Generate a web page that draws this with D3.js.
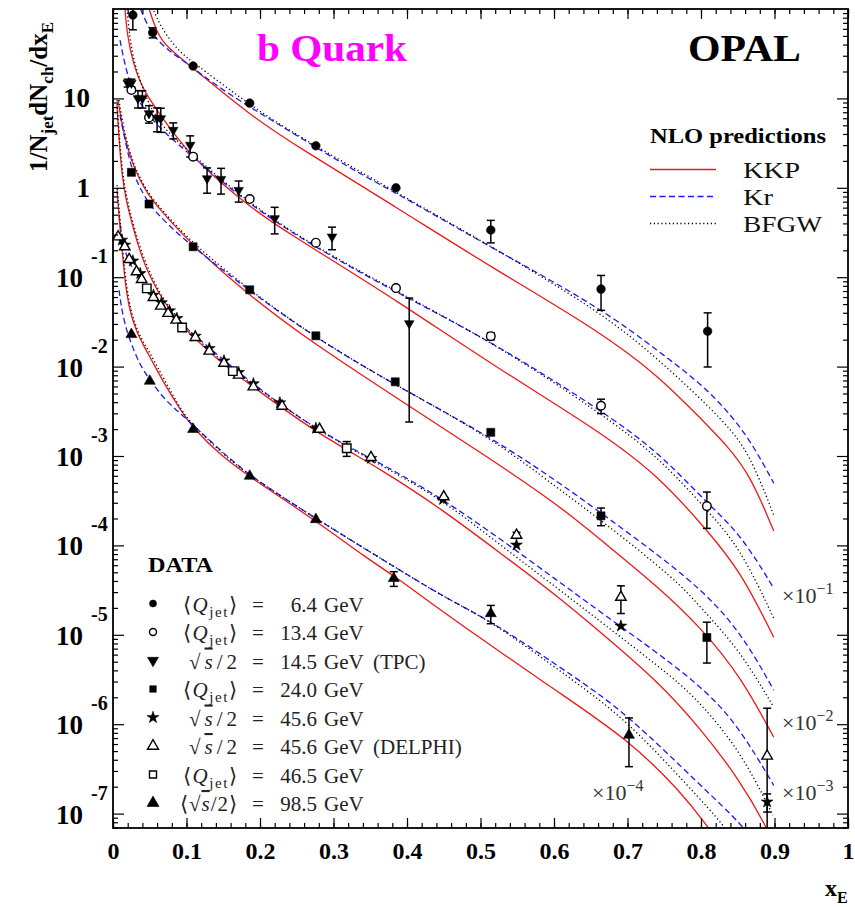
<!DOCTYPE html>
<html><head><meta charset="utf-8">
<script src="https://cdn.jsdelivr.net/npm/d3@7/dist/d3.min.js"></script>
<style>
html,body{margin:0;padding:0;background:#fff;}
svg text{font-family:"Liberation Serif","Times New Roman",serif;}
</style></head>
<body>
<svg id="chart" width="855" height="907"></svg>
<script>
// ---------------- axis ticks ----------------
const xTickValues = [0,0.1,0.2,0.3,0.4,0.5,0.6,0.7,0.8,0.9,1];
const xTickLabels = ["0","0.1","0.2","0.3","0.4","0.5","0.6","0.7","0.8","0.9","1"];
const yDecadeExps = [1,0,-1,-2,-3,-4,-5,-6,-7];
// plotted value = value * groupScale[group]
const groupScale = [1,1e-1,1e-2,1e-3,1e-4];
const groupScaleExp = ["", "−1", "−2", "−3", "−4"];

// ---------------- data (unscaled 1/Njet dNch/dxE) ----------------
// <Qjet> = 6.4 GeV (group 0)
const q64_x = [0.027,0.054,0.109,0.186,0.276,0.385,0.514,0.664,0.809];
const q64_y = [85.5,54.5,23.0,8.85,2.95,1.0,0.337,0.0736,0.0249];
const q64_e = [27,7,0,0,0,0,0.095,0.031,0.015];
// <Qjet> = 13.4 GeV (group 1)
const q134_x = [0.025,0.049,0.109,0.186,0.276,0.385,0.514,0.664,0.808];
const q134_y = [124,61.2,22.3,7.48,2.43,0.755,0.219,0.0365,0.00275];
const q134_e = [0,0,0,0,0,0,0.02,0.0067,0.0012];
// sqrt(s)/2 = 14.5 GeV TPC (group 1)
const tpc_x = [0.020,0.025,0.034,0.040,0.049,0.060,0.065,0.082,0.105,0.128,0.147,0.171,0.220,0.298,0.403];
const tpc_y = [149,149,100,100,67.9,60.3,59.7,44.2,30.1,12.7,12.5,9.42,4.55,2.83,0.304];
const tpc_e = [15,15,22,22,15,18,18,9,8,4,4,2.5,1.5,0.8,0.28];
// <Qjet> = 24.0 GeV (group 2)
const q240_x = [0.025,0.049,0.109,0.186,0.276,0.384,0.514,0.664,0.808];
const q240_y = [149,65.8,21.9,7.23,2.21,0.676,0.184,0.0214,0.000933];
const q240_e = [0,0,0,0,0,0,0,0.0048,0.00045];
// sqrt(s)/2 = 45.6 GeV (group 3)
const z456_x = [0.012,0.016,0.027,0.037,0.055,0.066,0.077,0.087,0.112,0.131,0.151,0.171,0.191,0.227,0.276,0.351,0.449,0.549,0.691,0.890];
const z456_y = [260,229,152,110,63.0,51.8,42.1,34.6,21.9,16.0,11.6,8.61,6.43,3.94,2.04,0.942,0.327,0.101,0.01253,0.000135];
const z456_e = [0,0,0,0,0,0,0,0,0,0,0,0,0,0,0,0,0,0,0,0.000031];
// sqrt(s)/2 = 45.6 GeV DELPHI (group 3)
const del_x = [0.007,0.016,0.022,0.032,0.039,0.055,0.065,0.075,0.086,0.112,0.131,0.151,0.171,0.191,0.230,0.281,0.351,0.450,0.549,0.691,0.890];
const del_y = [283,219,158,115,94.4,59.4,47.5,39.4,33.1,21.2,14.9,10.9,8.04,5.94,3.61,1.99,0.964,0.350,0.130,0.0263,0.00044];
const del_e = [0,0,0,0,0,0,0,0,0,0,0,0,0,0,0,0,0,0,0.01,0.009,0.00107];
// <Qjet> = 46.5 GeV (group 3)
const q465_x = [0.046,0.094,0.163,0.318];
const q465_y = [75.0,27.4,8.91,1.22];
const q465_e = [0,0,0,0.23];
// <sqrt(s)/2> = 98.5 GeV (group 4)
const l985_x = [0.025,0.050,0.109,0.186,0.276,0.382,0.514,0.702];
const l985_y = [229,68.9,19.9,5.96,1.95,0.428,0.173,0.00755];
const l985_e = [0,0,0,0,0,0.08,0.04,0.0042];

// ---------------- NLO predictions (unscaled) ----------------
const kkpA_x = [0.046,0.049,0.060,0.073,0.109,0.186,0.254,0.385,0.514,0.664,0.744,0.799,0.835,0.867,0.899];
const kkpA_y = [126,100,53.7,37.5,21.8,6.52,2.78,0.609,0.130,0.0243,0.00764,0.00265,0.00132,0.000612,0.000145];
const krA_x = [0.034,0.037,0.050,0.064,0.082,0.101,0.139,0.186,0.254,0.322,0.385,0.445,0.514,0.664,0.744,0.799,0.835,0.867,0.899];
const krA_y = [125,100,58.1,41.6,31.3,24.8,14.1,8.0,3.69,1.66,0.873,0.458,0.217,0.0452,0.0145,0.00653,0.00327,0.00151,0.000498];
const bfA_x = [0.052,0.054,0.064,0.082,0.101,0.118,0.186,0.254,0.385,0.514,0.664,0.744,0.835,0.867,0.899];
const bfA_y = [126,100,66.1,39.4,28.2,22.4,8.41,3.69,0.895,0.223,0.0407,0.0118,0.00233,0.00102,0.000218];

const kkpB_x = [0.0163,0.019,0.027,0.041,0.060,0.082,0.109,0.186,0.254,0.276,0.385,0.514,0.664,0.744,0.808,0.853,0.899];
const kkpB_y = [1000,537,248,124,74.1,40.9,21.5,5.94,2.61,2.01,0.555,0.107,0.0185,0.00581,0.00148,0.000528,0.000094];
const krB_x = [0.0095,0.0177,0.0259,0.0367,0.0503,0.0707,0.109,0.186,0.276,0.385,0.514,0.664,0.744,0.808,0.853,0.899];
const krB_y = [449,207,130,88.5,61.8,40.9,22.1,6.41,2.12,0.681,0.193,0.0327,0.01076,0.00297,0.001374,0.000332];
const bfB_x = [0.019,0.0231,0.0299,0.041,0.0503,0.0707,0.109,0.186,0.276,0.385,0.514,0.664,0.744,0.808,0.853,0.899];
const bfB_y = [998,449,230,128,80,44,23.2,6.58,2.17,0.700,0.193,0.0302,0.00948,0.00248,0.000957,0.000153];

const kkpC_x = [0.0068,0.0122,0.0204,0.0299,0.0435,0.0639,0.109,0.186,0.276,0.384,0.514,0.608,0.664,0.744,0.799,0.853,0.899];
const kkpC_y = [957,504,264,158,94.2,56.5,22.3,6.15,1.74,0.456,0.0925,0.0275,0.01146,0.00332,0.00122,0.000354,0.0000714];
const krC_x = [0.0095,0.0177,0.0259,0.0367,0.049,0.0707,0.109,0.186,0.276,0.384,0.514,0.608,0.664,0.789,0.853,0.899];
const krC_y = [652,301,158,99.3,65.8,41.3,21.7,7.0,2.08,0.621,0.163,0.0498,0.0230,0.00408,0.00113,0.000240];
const bfC_x = [0.0082,0.0136,0.0218,0.0313,0.0449,0.0639,0.109,0.186,0.276,0.384,0.514,0.608,0.664,0.767,0.799,0.853,0.899];
const bfC_y = [957,504,264,158,94.2,59.4,23.4,7.18,2.08,0.621,0.163,0.0416,0.0192,0.00408,0.00204,0.000673,0.000155];

const kkpD_x = [0.0054,0.0082,0.0122,0.0177,0.0254,0.034,0.0435,0.0544,0.0639,0.0844,0.109,0.146,0.191,0.277,0.367,0.449,0.527,0.608,0.663,0.740,0.799,0.853,0.890,0.899];
const kkpD_y = [8414,3420,1387,729,413,229,136,88.1,63.1,34.8,21.4,11.2,5.90,1.80,0.695,0.248,0.082,0.0258,0.01074,0.00310,0.000904,0.000236,0.0000685,0.000045];
const krD_x = [0.0082,0.0122,0.0177,0.0259,0.0367,0.0544,0.0707,0.0912,0.112,0.191,0.277,0.351,0.449,0.567,0.663,0.799,0.853,0.899];
const krD_y = [495,274,177,126,92.9,63.1,45.1,31.5,21.9,6.21,1.95,0.948,0.338,0.0684,0.0179,0.00288,0.000904,0.000207];
const bfD_x = [0.0054,0.0082,0.0122,0.0177,0.0254,0.034,0.0435,0.0544,0.0639,0.0844,0.109,0.146,0.191,0.277,0.367,0.449,0.527,0.608,0.663,0.767,0.799,0.853,0.898];
const bfD_y = [9572,4093,1660,828,458,253,151,95.3,66.4,36.7,22.5,11.8,6.21,1.95,0.771,0.321,0.101,0.0316,0.0141,0.0031,0.00172,0.000513,0.0000962];

const kkpE_x = [0.0054,0.0082,0.0109,0.0143,0.0186,0.0245,0.0327,0.0435,0.0503,0.0707,0.0912,0.109,0.146,0.186,0.277,0.345,0.391,0.423,0.513,0.608,0.702,0.771,0.811,0.826];
const kkpE_y = [9419,4955,2600,1365,631,377,237,161,128,62.1,33.4,20.5,10.2,5.81,1.87,0.721,0.408,0.257,0.0766,0.0222,0.00661,0.00182,0.000686,0.000447];
const krE_x = [0.0082,0.0109,0.0163,0.0245,0.0367,0.0503,0.0707,0.0912,0.109,0.146,0.186,0.277,0.368,0.457,0.513,0.635,0.701,0.799,0.860,0.873];
const krE_y = [718,486,291,182,104,70.6,42.3,30.2,22.2,11.6,5.97,1.97,0.684,0.244,0.146,0.0310,0.01262,0.00207,0.000703,0.000447];
const bfE_x = [0.0054,0.0082,0.0109,0.0143,0.0186,0.0245,0.0327,0.0435,0.0503,0.0707,0.0952,0.109,0.146,0.186,0.277,0.368,0.457,0.513,0.626,0.699,0.785,0.834,0.846];
const bfE_y = [10715,5916,3184,1629,755,418,256,174,142,68.9,30.2,22.2,11.1,5.97,1.97,0.684,0.244,0.146,0.0310,0.01109,0.00193,0.000703,0.000447];

// ---------------- legend texts ----------------
const legendLeft = ["Q","Q","s","Q","s","s","Q","S"];
const legendEnergy = ["6.4","13.4","14.5","24.0","45.6","45.6","46.5","98.5"];
const legendSuffix = ["","","(TPC)","","","(DELPHI)","",""];
const modelNames = ["KKP","Kr","BFGW"];

// ---------------- drawing ----------------
const svg = d3.select("#chart");
const L = 113, R = 848, T = 9, B = 828;
const x = d3.scaleLinear().domain([0,1]).range([L,R]);
const y = d3.scaleLog().domain([6.9e-8,100]).range([B,T]);

svg.append("defs").append("clipPath").attr("id","plotclip")
  .append("rect").attr("x",L).attr("y",T).attr("width",R-L).attr("height",B-T);

const RED = "#f01818", BLUE = "#1a1aff";
const modelStyle = {
  KKP: {stroke: RED, dash: null, w: 1.3, tl: 57},
  Kr: {stroke: BLUE, dash: "6,3.5", w: 1.3, tl: 30},
  BFGW: {stroke: "#000", dash: "1.2,2.6", w: 1.3, tl: 79}
};

const curves = [
  ["KKP",0,kkpA_x,kkpA_y],["Kr",0,krA_x,krA_y],["BFGW",0,bfA_x,bfA_y],
  ["KKP",1,kkpB_x,kkpB_y],["Kr",1,krB_x,krB_y],["BFGW",1,bfB_x,bfB_y],
  ["KKP",2,kkpC_x,kkpC_y],["Kr",2,krC_x,krC_y],["BFGW",2,bfC_x,bfC_y],
  ["KKP",3,kkpD_x,kkpD_y],["Kr",3,krD_x,krD_y],["BFGW",3,bfD_x,bfD_y],
  ["KKP",4,kkpE_x,kkpE_y],["Kr",4,krE_x,krE_y],["BFGW",4,bfE_x,bfE_y]
];

const plot = svg.append("g").attr("clip-path","url(#plotclip)");
const line = d3.line().x(d=>x(d[0])).y(d=>y(d[1])).curve(d3.curveBasis);

curves.forEach(([m,g,xs,ys])=>{
  const pts = xs.map((v,i)=>[v, ys[i]*groupScale[g]]);
  const st = modelStyle[m];
  plot.append("path").attr("d", line(pts)).attr("fill","none")
    .attr("stroke", st.stroke).attr("stroke-width", st.w)
    .attr("stroke-dasharray", st.dash);
});

// symbols
function symPath(type, s){
  switch(type){
    case "circle": return d3.symbol(d3.symbolCircle, Math.PI*s*s/4)();
    case "square": return d3.symbol(d3.symbolSquare, s*s)();
    case "triangle": case "triangleDown": return d3.symbol(d3.symbolTriangle, Math.sqrt(3)/4*s*s)();
    case "star": return d3.symbol(d3.symbolStar, s*s*0.36)();
  }
}
function drawSymbol(g, type, filled, cx, cy, s){
  return g.append("path").attr("d", symPath(type,s))
    .attr("transform", `translate(${cx},${cy})` + (type==="triangleDown" ? " rotate(180)" : ""))
    .attr("fill", filled ? "#000" : "#fff").attr("stroke","#000")
    .attr("stroke-width", filled ? 0.6 : 1.4);
}

const datasets = [
  {xs:q64_x, ys:q64_y, es:q64_e, g:0, type:"circle", filled:true, s:8.6, ls:7},
  {xs:q134_x, ys:q134_y, es:q134_e, g:1, type:"circle", filled:false, s:8.6, ls:7},
  {xs:tpc_x, ys:tpc_y, es:tpc_e, g:1, type:"triangleDown", filled:true, s:9.5, ls:11},
  {xs:q240_x, ys:q240_y, es:q240_e, g:2, type:"square", filled:true, s:8, ls:6.5},
  {xs:z456_x, ys:z456_y, es:z456_e, g:3, type:"star", filled:true, s:11, ls:11},
  {xs:del_x, ys:del_y, es:del_e, g:3, type:"triangle", filled:false, s:10.5, ls:11},
  {xs:q465_x, ys:q465_y, es:q465_e, g:3, type:"square", filled:false, s:8.5, ls:7},
  {xs:l985_x, ys:l985_y, es:l985_e, g:4, type:"triangle", filled:true, s:11, ls:12}
];

const errG = plot.append("g").attr("stroke","#000").attr("stroke-width",1.5);
const markG = svg.append("g");
datasets.forEach(ds=>{
  const sc = groupScale[ds.g];
  ds.xs.forEach((xv,i)=>{
    const v = ds.ys[i], e = ds.es[i];
    if(e>0){
      const yHi = y((v+e)*sc);
      const lo = v-e;
      const yLo = lo>0 ? y(lo*sc) : B+5;
      const cx = x(xv);
      errG.append("line").attr("x1",cx).attr("x2",cx).attr("y1",yHi).attr("y2",yLo);
      errG.append("line").attr("x1",cx-4).attr("x2",cx+4).attr("y1",yHi).attr("y2",yHi);
      if(lo>0) errG.append("line").attr("x1",cx-4).attr("x2",cx+4).attr("y1",yLo).attr("y2",yLo);
    }
  });
});
datasets.forEach(ds=>{
  const sc = groupScale[ds.g];
  ds.xs.forEach((xv,i)=>{
    drawSymbol(markG, ds.type, ds.filled, x(xv), y(ds.ys[i]*sc), ds.s);
  });
});

// ---------------- axes ----------------
const xMinor = d3.range(51).map(i=>i/50);
const yMajor = yDecadeExps.map(e=>Math.pow(10,e));
const yMinor = [];
for(let e=-8;e<=1;e++) for(let m=2;m<=9;m++){ const v=m*Math.pow(10,e); if(v>6.9e-8 && v<100) yMinor.push(v); }

function addAxis(gen, tx, ty, vals, size, fmt, pad){
  const a = gen.tickValues(vals).tickSize(size).tickSizeOuter(0).tickFormat(fmt || "");
  if(pad!==undefined) a.tickPadding(pad);
  const g = svg.append("g").attr("transform",`translate(${tx},${ty})`).call(a);
  g.select(".domain").remove();
  g.selectAll(".tick line").attr("stroke","#000").attr("stroke-width",1.2);
  return g;
}
const xb = addAxis(d3.axisBottom(x), 0, B, xTickValues, -10, (d,i)=>xTickLabels[i], 14);
xb.attr("font-family","'Liberation Serif',serif").attr("font-size",24).attr("font-weight","bold");
xb.selectAll("text").attr("fill","#000");
addAxis(d3.axisBottom(x), 0, B, xMinor, -5);
addAxis(d3.axisTop(x), 0, T, xTickValues, -10);
addAxis(d3.axisTop(x), 0, T, xMinor, -5);
addAxis(d3.axisLeft(y), L, 0, yMajor, -11);
addAxis(d3.axisLeft(y), L, 0, yMinor, -5);
addAxis(d3.axisRight(y), R, 0, yMajor, -11);
addAxis(d3.axisRight(y), R, 0, yMinor, -5);

svg.append("rect").attr("x",L).attr("y",T).attr("width",R-L).attr("height",B-T)
  .attr("fill","none").attr("stroke","#000").attr("stroke-width",1.8);

// y tick labels
const yl = svg.append("g").attr("font-weight","bold").attr("fill","#000");
yDecadeExps.forEach(e=>{
  const ty = y(Math.pow(10,e));
  if(e===1){
    yl.append("text").attr("x",90).attr("y",ty+9).attr("text-anchor","end").attr("font-size",27).text("10");
  } else if(e===0){
    yl.append("text").attr("x",90).attr("y",ty+9).attr("text-anchor","end").attr("font-size",27).text("1");
  } else {
    yl.append("text").attr("x",83).attr("y",ty+10).attr("text-anchor","end").attr("font-size",27).text("10");
    yl.append("text").attr("x",91).attr("y",ty-14).attr("text-anchor","start").attr("font-size",20).text(String(e));
  }
});

// axis titles
const ylab = svg.append("text").attr("transform","translate(47,172) rotate(-90)")
  .attr("font-size",25).attr("font-weight","bold");
ylab.append("tspan").text("1/N");
ylab.append("tspan").attr("font-size",17).attr("dy",6).text("jet");
ylab.append("tspan").attr("dy",-6).text("dN");
ylab.append("tspan").attr("font-size",17).attr("dy",6).text("ch");
ylab.append("tspan").attr("dy",-6).text("/dx");
ylab.append("tspan").attr("font-size",17).attr("dy",6).text("E");

const xlab = svg.append("text").attr("x",825).attr("y",896).attr("font-size",24).attr("font-weight","bold");
xlab.append("tspan").text("x");
xlab.append("tspan").attr("font-size",16).attr("dy",7).text("E");

// titles
svg.append("text").attr("x",257).attr("y",61).attr("font-size",38).attr("font-weight","bold")
  .attr("fill","#ff00ff").attr("textLength",150).attr("lengthAdjust","spacingAndGlyphs").text("b Quark");
svg.append("text").attr("x",688).attr("y",61).attr("font-size",38).attr("font-weight","bold")
  .attr("fill","#000").attr("textLength",113).attr("lengthAdjust","spacingAndGlyphs").text("OPAL");

// NLO legend
svg.append("text").attr("x",650).attr("y",143).attr("font-size",21).attr("font-weight","bold")
  .attr("textLength",176).attr("lengthAdjust","spacingAndGlyphs").text("NLO predictions");
modelNames.forEach((m,i)=>{
  const ly = 169.5 + i*27;
  const st = modelStyle[m];
  svg.append("line").attr("x1",650).attr("x2",716).attr("y1",ly).attr("y2",ly)
    .attr("stroke",st.stroke).attr("stroke-width",1.5).attr("stroke-dasharray",st.dash);
  svg.append("text").attr("x",743).attr("y",ly+8.5).attr("font-size",24).attr("fill","#111")
    .attr("textLength",st.tl).attr("lengthAdjust","spacingAndGlyphs").text(m);
});

// group scale labels
const scalePos = [null,[782,603],[782,730],[782,800],[592,800]];
for(let g=1; g<5; g++){
  const t = svg.append("text").attr("x",scalePos[g][0]).attr("y",scalePos[g][1]).attr("font-size",22).attr("fill","#333");
  t.append("tspan").text("×10");
  t.append("tspan").attr("font-size",16).attr("dy",-9).text(groupScaleExp[g]);
}

// DATA legend
svg.append("text").attr("x",148).attr("y",572).attr("font-size",22).attr("font-weight","bold")
  .attr("textLength",65).attr("lengthAdjust","spacingAndGlyphs").text("DATA");
const lg = svg.append("g").attr("font-size",21).attr("fill","#222");
const leftWidth = {Q:54, s:48, S:57};
datasets.forEach((ds,i)=>{
  const cy = 603.5 + i*28.5;
  drawSymbol(lg, ds.type, ds.filled, 153, cy, ds.ls);
  const base = cy + 8;
  const kind = legendLeft[i];
  const t = lg.append("text").attr("x",237 - leftWidth[kind]).attr("y",base)
    .attr("textLength",leftWidth[kind]).attr("lengthAdjust","spacing");
  if(kind==="Q"){
    t.append("tspan").text("⟨");
    t.append("tspan").attr("font-style","italic").text("Q");
    t.append("tspan").attr("font-size",15).attr("dy",5).text("jet");
    t.append("tspan").attr("dy",-5).text("⟩");
  } else {
    if(kind==="S") t.append("tspan").text("⟨");
    t.append("tspan").text("√");
    t.append("tspan").attr("font-style","italic").style("text-decoration","overline").text("s");
    t.append("tspan").text("/2");
    if(kind==="S") t.append("tspan").text("⟩");
  }
  lg.append("text").attr("x",258).attr("y",base).attr("text-anchor","middle").text("=");
  lg.append("text").attr("x",317).attr("y",base).attr("text-anchor","end").text(legendEnergy[i]);
  lg.append("text").attr("x",324).attr("y",base).text("GeV");
  if(legendSuffix[i]) lg.append("text").attr("x",373).attr("y",base).text(legendSuffix[i]);
});
</script>
</body></html>
